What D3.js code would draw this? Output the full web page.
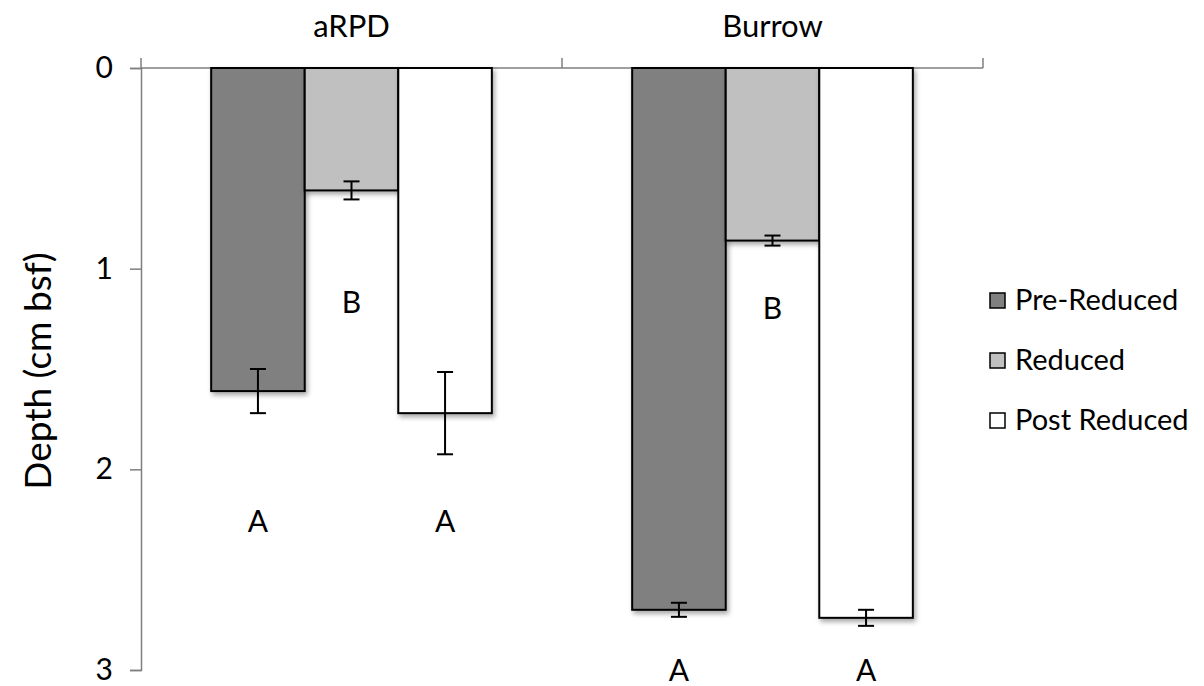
<!DOCTYPE html>
<html>
<head>
<meta charset="utf-8">
<script src="https://cdn.jsdelivr.net/npm/d3@7"></script>
<style>
  body { margin: 0; background: #fff; }
  svg text { font-family: Lato, "Open Sans", sans-serif; fill: #000; }
</style>
</head>
<body>
<div id="chart"></div>
<script>
const categories = ['aRPD', 'Burrow']
const series = ['Pre-Reduced', 'Reduced', 'Post Reduced']
const colors = ['#808080', '#c0c0c0', '#ffffff']

// mean depth (cm bsf) per category, per series
const aRPDMeans = [1.61, 0.61, 1.72]
const burrowMeans = [2.70, 0.86, 2.74]
const aRPDErrors = [0.11, 0.045, 0.205]
const burrowErrors = [0.035, 0.025, 0.04]

// significance letters and the depth they sit at
const aRPDLetters = ['A', 'B', 'A']
const burrowLetters = ['A', 'B', 'A']
const aRPDLetterDepth = [2.26, 1.17, 2.26]
const burrowLetterDepth = [3.0, 1.2, 3.0]

const yTicks = [0, 1, 2, 3]

const means = [aRPDMeans, burrowMeans]
const errors = [aRPDErrors, burrowErrors]
const letters = [aRPDLetters, burrowLetters]
const letterDepth = [aRPDLetterDepth, burrowLetterDepth]

let rows = []
categories.forEach((c, i) => {
	series.forEach((s, j) => {
		rows.push({cat: c, series: s, value: means[i][j], err: errors[i][j],
			letter: letters[i][j], letterDepth: letterDepth[i][j], color: colors[j]})
	})
})

let width = 1204
let height = 686

let svg = d3.select('#chart').append('svg')
.attr('width', width)
.attr('height', height)

let defs = svg.append('defs')
let shadow = defs.append('filter').attr('id', 'shadow')
	.attr('x', '-20%').attr('y', '-20%').attr('width', '140%').attr('height', '140%')
shadow.append('feDropShadow')
	.attr('dx', 2).attr('dy', 3).attr('stdDeviation', 2.5)
	.attr('flood-color', '#000').attr('flood-opacity', 0.35)

const plotLeft = 141, plotRight = 983, plotTop = 68, plotBottom = 670

let x0 = d3.scaleBand()
.domain(categories)
.range([plotLeft, plotRight])
.paddingInner(1/3)
.paddingOuter(1/6)

let x1 = d3.scaleBand()
.domain(series)
.range([0, x0.bandwidth()])

let y = d3.scaleLinear()
.domain([0, 3])
.range([plotTop, plotBottom])

// y axis
let yAxis = svg.append('g')
.attr('transform', `translate(${plotLeft},0)`)
.call(d3.axisLeft(y).tickValues(yTicks).tickSize(11).tickPadding(17).tickFormat(d3.format('d')))

yAxis.select('.domain').attr('stroke', '#7f7f7f').attr('stroke-width', 1.5)
yAxis.selectAll('.tick line').attr('stroke', '#7f7f7f').attr('stroke-width', 1.5)
yAxis.selectAll('.tick text').style('font-size', '30px').attr('fill', '#000')

// top category axis
let catAxis = svg.append('g').attr('class', 'cat-axis')

catAxis.append('line')
.attr('x1', plotLeft).attr('x2', plotRight)
.attr('y1', plotTop).attr('y2', plotTop)
.attr('stroke', '#7f7f7f').attr('stroke-width', 1.5)

let boundaries = [plotLeft].concat(categories.map(c => x0(c) + x0.bandwidth() + x0.step() * x0.paddingInner() / 2))
boundaries[boundaries.length - 1] = plotRight

catAxis.selectAll('.cat-tick')
.data(boundaries)
.enter()
.append('line')
.attr('x1', d => d).attr('x2', d => d)
.attr('y1', plotTop).attr('y2', plotTop - 10)
.attr('stroke', '#7f7f7f').attr('stroke-width', 1.5)

catAxis.selectAll('.cat-label')
.data(categories)
.enter()
.append('text')
.attr('x', d => x0(d) + x0.bandwidth() / 2)
.attr('y', 37)
.attr('text-anchor', 'middle')
.style('font-size', '31px')
.text(d => d)

// bars
let barGroup = svg.append('g')

barGroup.selectAll('rect')
.data(rows)
.enter()
.append('rect')
.attr('x', d => x0(d.cat) + x1(d.series))
.attr('y', y(0))
.attr('width', x1.bandwidth())
.attr('height', d => y(d.value) - y(0))
.attr('fill', d => d.color)
.attr('stroke', '#000')
.attr('stroke-width', 2)
.attr('filter', 'url(#shadow)')

// error bars
let errGroup = svg.append('g')
.attr('stroke', '#000')
.attr('stroke-width', 2)

let cap = 8

rows.forEach(d => {
	let cx = x0(d.cat) + x1(d.series) + x1.bandwidth() / 2
	errGroup.append('line')
	.attr('x1', cx).attr('x2', cx)
	.attr('y1', y(d.value - d.err)).attr('y2', y(d.value + d.err))
	errGroup.append('line')
	.attr('x1', cx - cap).attr('x2', cx + cap)
	.attr('y1', y(d.value - d.err)).attr('y2', y(d.value - d.err))
	errGroup.append('line')
	.attr('x1', cx - cap).attr('x2', cx + cap)
	.attr('y1', y(d.value + d.err)).attr('y2', y(d.value + d.err))
})

// letters
svg.append('g').selectAll('text')
.data(rows)
.enter()
.append('text')
.attr('x', d => x0(d.cat) + x1(d.series) + x1.bandwidth() / 2)
.attr('y', d => y(d.letterDepth))
.attr('dy', '0.35em')
.attr('text-anchor', 'middle')
.style('font-size', '30px')
.text(d => d.letter)

// y title
svg.append('text')
.attr('transform', 'translate(38,' + ((plotTop + plotBottom) / 2 + 2) + ') rotate(-90)')
.attr('text-anchor', 'middle')
.attr('dy', '0.35em')
.style('font-size', '37px')
.text('Depth (cm bsf)')

// legend
let legend = svg.append('g').attr('transform', 'translate(990,300)')

let item = legend.selectAll('g')
.data(series)
.enter()
.append('g')
.attr('transform', (d, i) => `translate(0,${i * 60})`)

item.append('rect')
.attr('x', 0).attr('y', -7)
.attr('width', 15).attr('height', 15)
.attr('fill', (d, i) => colors[i])
.attr('stroke', '#000')
.attr('stroke-width', 1.5)

item.append('text')
.attr('x', 25)
.attr('dy', '0.35em')
.style('font-size', '29px')
.text(d => d)
</script>
</body>
</html>
